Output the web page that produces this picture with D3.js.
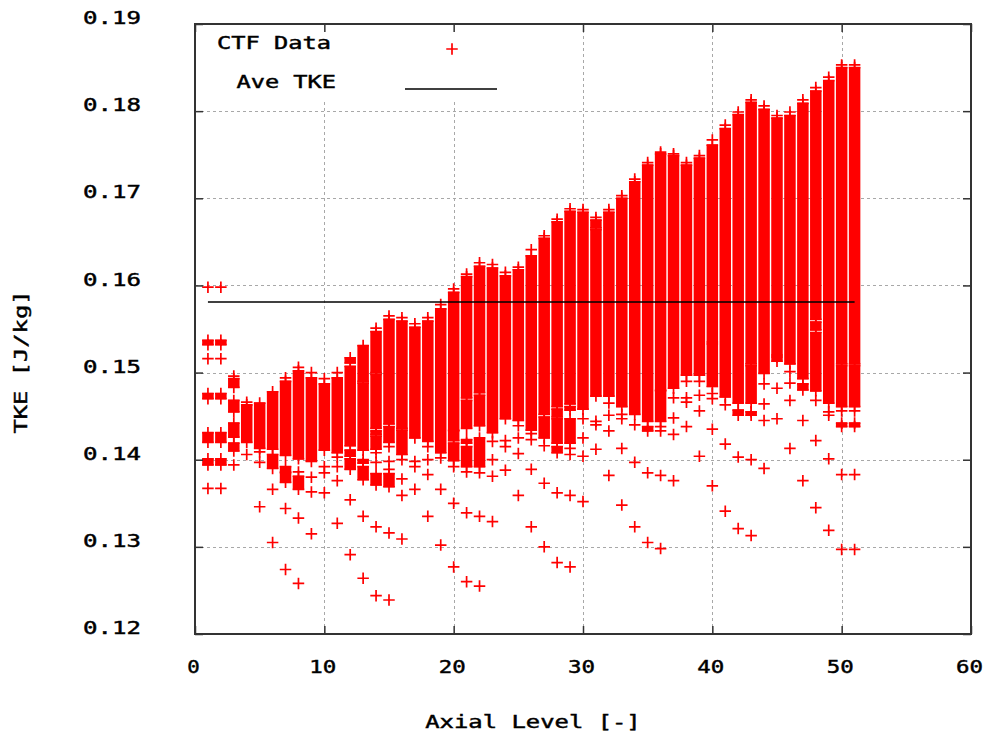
<!DOCTYPE html>
<html>
<head>
<meta charset="utf-8">
<script src="https://cdn.jsdelivr.net/npm/d3@7"></script>
<style>
  body { margin: 0; background: #fff; }
  text { font-family: 'DejaVu Sans Mono', 'Liberation Mono', monospace; font-size: 18px; fill: #000;
         stroke: #000; stroke-width: 0.45px; }
</style>
</head>
<body>
<svg id="chart" width="986" height="738"></svg>
<script>
// axis ticks
var xTicks = [0, 10, 20, 30, 40, 50, 60];
var yTicks = [0.12, 0.13, 0.14, 0.15, 0.16, 0.17, 0.18, 0.19];

// average TKE over all levels
var aveTKE = 0.1581;
var aveLevels = [1, 51];

// dense clusters of CTF points: [level, low, high]
var blocks = [
  [1, 0.1532, 0.1537], [1, 0.1470, 0.1476], [1, 0.1420, 0.1431], [1, 0.1394, 0.1401],
  [2, 0.1532, 0.1537], [2, 0.1470, 0.1476], [2, 0.1420, 0.1431], [2, 0.1394, 0.1401],
  [3, 0.1483, 0.1493], [3, 0.1455, 0.1468], [3, 0.1426, 0.1442], [3, 0.1410, 0.1419],
  [4, 0.1420, 0.1463],
  [5, 0.1413, 0.1465],
  [6, 0.1412, 0.1478], [6, 0.1390, 0.1406],
  [7, 0.1405, 0.1490], [7, 0.1386, 0.1392], [7, 0.1374, 0.1385],
  [8, 0.1401, 0.1502], [8, 0.1366, 0.1381],
  [9, 0.1398, 0.1494],
  [10, 0.1411, 0.1487],
  [11, 0.1408, 0.1494],
  [12, 0.1511, 0.1517], [12, 0.1416, 0.1507], [12, 0.1404, 0.1411], [12, 0.1389, 0.1401],
  [13, 0.1490, 0.1531], [13, 0.1411, 0.1488], [13, 0.1396, 0.1400], [13, 0.1377, 0.1392],
  [14, 0.1500, 0.1547], [14, 0.1436, 0.1498], [14, 0.1429, 0.1433], [14, 0.1412, 0.1427], [14, 0.1371, 0.1384],
  [15, 0.1441, 0.1561], [15, 0.1420, 0.1438], [15, 0.1369, 0.1384],
  [16, 0.1436, 0.1559], [16, 0.1406, 0.1434],
  [17, 0.1425, 0.1552],
  [18, 0.1421, 0.1559],
  [19, 0.1408, 0.1573],
  [20, 0.1434, 0.1592], [20, 0.1422, 0.1433], [20, 0.1399, 0.1419],
  [21, 0.1471, 0.1610], [21, 0.1436, 0.1468], [21, 0.1419, 0.1423], [21, 0.1392, 0.1415],
  [22, 0.1477, 0.1622], [22, 0.1439, 0.1474], [22, 0.1392, 0.1425],
  [23, 0.1431, 0.1620],
  [24, 0.1447, 0.1611],
  [25, 0.1445, 0.1618],
  [26, 0.1434, 0.1634],
  [27, 0.1452, 0.1654], [27, 0.1425, 0.1449],
  [28, 0.1461, 0.1673], [28, 0.1449, 0.1458], [28, 0.1419, 0.1447], [28, 0.1408, 0.1415],
  [29, 0.1464, 0.1685], [29, 0.1457, 0.1461], [29, 0.1419, 0.1447],
  [30, 0.1458, 0.1684],
  [31, 0.1666, 0.1675], [31, 0.1473, 0.1664],
  [32, 0.1473, 0.1684],
  [33, 0.1461, 0.1700],
  [34, 0.1452, 0.1719],
  [35, 0.1444, 0.1738], [35, 0.1433, 0.1438],
  [36, 0.1480, 0.1751], [36, 0.1444, 0.1479],
  [37, 0.1482, 0.1749],
  [38, 0.1497, 0.1738],
  [39, 0.1497, 0.1746],
  [40, 0.1535, 0.1761], [40, 0.1484, 0.1533],
  [41, 0.1472, 0.1780],
  [42, 0.1465, 0.1796], [42, 0.1451, 0.1457],
  [43, 0.1510, 0.1810], [43, 0.1465, 0.1508], [43, 0.1451, 0.1455],
  [44, 0.1499, 0.1802],
  [45, 0.1520, 0.1792], [45, 0.1513, 0.1518],
  [46, 0.1510, 0.1795],
  [47, 0.1493, 0.1809], [47, 0.1480, 0.1487],
  [48, 0.1561, 0.1823], [48, 0.1549, 0.1558], [48, 0.1479, 0.1546],
  [49, 0.1465, 0.1835],
  [50, 0.1510, 0.1850], [50, 0.1461, 0.1508], [50, 0.1438, 0.1442],
  [51, 0.1510, 0.1850], [51, 0.1461, 0.1508], [51, 0.1438, 0.1442]
];

// isolated CTF points: [level, value]
var singles = [
  [1, 0.1598], [1, 0.1516], [1, 0.1367],
  [2, 0.1598], [2, 0.1516], [2, 0.1367],
  [3, 0.1496], [3, 0.1394],
  [4, 0.1466], [4, 0.1406],
  [5, 0.1409], [5, 0.1397], [5, 0.1346],
  [6, 0.1366], [6, 0.1305],
  [7, 0.1494], [7, 0.1344], [7, 0.1274],
  [8, 0.1506], [8, 0.1386], [8, 0.1333], [8, 0.1258],
  [9, 0.1500], [9, 0.1380], [9, 0.1363], [9, 0.1315],
  [10, 0.1493], [10, 0.1392], [10, 0.1385], [10, 0.1362],
  [11, 0.1500], [11, 0.1403], [11, 0.1392], [11, 0.1376], [11, 0.1327],
  [12, 0.1354], [12, 0.1291],
  [13, 0.1335], [13, 0.1264],
  [14, 0.1551], [14, 0.1408], [14, 0.1397], [14, 0.1323], [14, 0.1244],
  [15, 0.1565], [15, 0.1415], [15, 0.1398], [15, 0.1389], [15, 0.1316], [15, 0.1239],
  [16, 0.1563], [16, 0.1400], [16, 0.1378], [16, 0.1359], [16, 0.1309],
  [17, 0.1556], [17, 0.1398], [17, 0.1392], [17, 0.1366],
  [18, 0.1563], [18, 0.1415], [18, 0.1400], [18, 0.1383], [18, 0.1335],
  [19, 0.1578], [19, 0.1402], [19, 0.1366], [19, 0.1302],
  [20, 0.1596], [20, 0.1392], [20, 0.1350], [20, 0.1277],
  [21, 0.1613], [21, 0.1386], [21, 0.1339], [21, 0.1260],
  [22, 0.1626], [22, 0.1385], [22, 0.1335], [22, 0.1255],
  [23, 0.1624], [23, 0.1421], [23, 0.1400], [23, 0.1381], [23, 0.1329],
  [24, 0.1615], [24, 0.1422], [24, 0.1415], [24, 0.1388],
  [25, 0.1621], [25, 0.1439], [25, 0.1425], [25, 0.1407], [25, 0.1359],
  [26, 0.1641], [26, 0.1430], [26, 0.1423], [26, 0.1389], [26, 0.1323],
  [27, 0.1657], [27, 0.1416], [27, 0.1373], [27, 0.1300],
  [28, 0.1676], [28, 0.1362], [28, 0.1282],
  [29, 0.1688], [29, 0.1413], [29, 0.1406], [29, 0.1359], [29, 0.1277],
  [30, 0.1687], [30, 0.1447], [30, 0.1425], [30, 0.1404], [30, 0.1352],
  [31, 0.1678], [31, 0.1444], [31, 0.1440], [31, 0.1412],
  [32, 0.1687], [32, 0.1465], [32, 0.1451], [32, 0.1433], [32, 0.1382],
  [33, 0.1703], [33, 0.1452], [33, 0.1447], [33, 0.1413], [33, 0.1348],
  [34, 0.1722], [34, 0.1440], [34, 0.1397], [34, 0.1323],
  [35, 0.1741], [35, 0.1385], [35, 0.1305],
  [36, 0.1753], [36, 0.1438], [36, 0.1433], [36, 0.1382], [36, 0.1298],
  [37, 0.1751], [37, 0.1471], [37, 0.1448], [37, 0.1429], [37, 0.1376],
  [38, 0.1741], [38, 0.1490], [38, 0.1471], [38, 0.1466], [38, 0.1438],
  [39, 0.1749], [39, 0.1490], [39, 0.1474], [39, 0.1456], [39, 0.1404],
  [40, 0.1767], [40, 0.1476], [40, 0.1470], [40, 0.1435], [40, 0.1370],
  [41, 0.1784], [41, 0.1463], [41, 0.1418], [41, 0.1341],
  [42, 0.1799], [42, 0.1403], [42, 0.1321],
  [43, 0.1813], [43, 0.1400], [43, 0.1313],
  [44, 0.1806], [44, 0.1487], [44, 0.1464], [44, 0.1445], [44, 0.1390],
  [45, 0.1795], [45, 0.1482], [45, 0.1447],
  [46, 0.1799], [46, 0.1501], [46, 0.1488], [46, 0.1468], [46, 0.1413],
  [47, 0.1813], [47, 0.1445], [47, 0.1376],
  [48, 0.1827], [48, 0.1468], [48, 0.1422], [48, 0.1345],
  [49, 0.1839], [49, 0.1455], [49, 0.1451], [49, 0.1401], [49, 0.1319],
  [50, 0.1853], [50, 0.1456], [50, 0.1383], [50, 0.1297],
  [51, 0.1853], [51, 0.1456], [51, 0.1383], [51, 0.1297]
];

var margin = { top: 24, right: 15, bottom: 104, left: 195 };
var width = 986 - margin.left - margin.right;   // 776
var height = 738 - margin.top - margin.bottom;  // 610
var charW = 14.5;  // wide bitmap-like font

var svg = d3.select('#chart').append('g')
  .attr('transform', 'translate(' + margin.left + ',' + margin.top + ')');

var xScale = d3.scaleLinear().domain([0, 60]).range([0, width]);
var yScale = d3.scaleLinear().domain([0.12, 0.19]).range([height, 0]);

// grid
svg.append('g').selectAll('line')
  .data(xTicks.slice(1, -1))
  .enter().append('line')
  .attr('x1', function (d) { return Math.round(xScale(d)) + 0.5; })
  .attr('x2', function (d) { return Math.round(xScale(d)) + 0.5; })
  .attr('y1', 0).attr('y2', height)
  .attr('stroke', '#a8a8a8').attr('stroke-dasharray', '3,3');
svg.append('g').selectAll('line')
  .data(yTicks.slice(1, -1))
  .enter().append('line')
  .attr('y1', function (d) { return Math.round(yScale(d)) + 0.5; })
  .attr('y2', function (d) { return Math.round(yScale(d)) + 0.5; })
  .attr('x1', 0).attr('x2', width)
  .attr('stroke', '#a8a8a8').attr('stroke-dasharray', '3,3');

// key box hides the grid behind it
svg.append('rect')
  .attr('x', 1).attr('y', 1).attr('width', 314).attr('height', 76)
  .attr('fill', '#fff');

// dense clusters
var barW = 11.5;
svg.append('g').selectAll('rect')
  .data(blocks)
  .enter().append('rect')
  .attr('x', function (d) { return xScale(d[0]) - barW / 2; })
  .attr('y', function (d) { return yScale(d[2]) - 0.6; })
  .attr('width', barW)
  .attr('height', function (d) { return yScale(d[1]) - yScale(d[2]) + 1.2; })
  .attr('fill', '#ff0000');

// every marker: isolated points plus the ends of each cluster
var markers = singles.slice();
blocks.forEach(function (b) {
  markers.push([b[0], b[1]]);
  markers.push([b[0], b[2]]);
});

function plusPath(cx, cy, r) {
  return 'M' + (cx - r) + ',' + cy + 'H' + (cx + r) + 'M' + cx + ',' + (cy - r) + 'V' + (cy + r);
}

svg.append('g').selectAll('path')
  .data(markers)
  .enter().append('path')
  .attr('d', function (d) { return plusPath(xScale(d[0]), yScale(d[1]), 5.75); })
  .attr('stroke', '#ff0000')
  .attr('stroke-width', 1.7)
  .attr('fill', 'none');

// average line
svg.append('line')
  .attr('x1', xScale(aveLevels[0])).attr('x2', xScale(aveLevels[1]))
  .attr('y1', yScale(aveTKE)).attr('y2', yScale(aveTKE))
  .attr('stroke', '#000').attr('stroke-width', 1.6);

// axes, ticks pointing inward and mirrored
var xAxis = d3.axisBottom(xScale).tickValues(xTicks).tickSize(-8).tickPadding(26)
  .tickFormat(d3.format('d'));
var yAxis = d3.axisLeft(yScale).tickValues(yTicks).tickSize(-8).tickPadding(54)
  .tickFormat(d3.format('.2f'));

var gx = svg.append('g').attr('transform', 'translate(0,' + height + ')').call(xAxis);
var gy = svg.append('g').call(yAxis);
svg.append('g').call(d3.axisTop(xScale).tickValues(xTicks).tickSize(-8).tickFormat(''));
svg.append('g').attr('transform', 'translate(' + width + ',0)')
  .call(d3.axisRight(yScale).tickValues(yTicks).tickSize(-8).tickFormat(''));

svg.selectAll('.domain').remove();
svg.selectAll('.tick line').attr('stroke', '#333').attr('stroke-width', 1.5);

gx.selectAll('text')
  .attr('font-family', null).attr('font-size', null)
  .attr('dx', -2)
  .attr('textLength', function (d) { return String(d).length * charW - 2; })
  .attr('lengthAdjust', 'spacingAndGlyphs');
gy.selectAll('text')
  .attr('font-family', null).attr('font-size', null)
  .attr('dy', '-0.02em')
  .attr('textLength', 58)
  .attr('lengthAdjust', 'spacingAndGlyphs');

// frame
svg.append('rect')
  .attr('x', 0).attr('y', 0).attr('width', width).attr('height', height)
  .attr('fill', 'none').attr('stroke', '#333').attr('stroke-width', 2);

// key
svg.append('text')
  .attr('x', 136).attr('y', 25)
  .attr('text-anchor', 'end')
  .attr('textLength', 8 * charW - 2).attr('lengthAdjust', 'spacingAndGlyphs')
  .text('CTF Data');
svg.append('path')
  .attr('d', plusPath(257, 25, 5.75))
  .attr('stroke', '#ff0000').attr('stroke-width', 1.7);
svg.append('text')
  .attr('x', 141).attr('y', 64)
  .attr('text-anchor', 'end')
  .attr('textLength', 7 * charW - 2).attr('lengthAdjust', 'spacingAndGlyphs')
  .text('Ave TKE');
svg.append('line')
  .attr('x1', 210).attr('x2', 302).attr('y1', 65).attr('y2', 65)
  .attr('stroke', '#000').attr('stroke-width', 1.6);

// axis labels
svg.append('text')
  .attr('x', 338).attr('y', height + 94)
  .attr('text-anchor', 'middle')
  .attr('textLength', 15 * charW - 2).attr('lengthAdjust', 'spacingAndGlyphs')
  .text('Axial Level [-]');
svg.append('text')
  .attr('transform', 'rotate(-90)')
  .attr('x', -338).attr('y', -168)
  .attr('text-anchor', 'middle')
  .attr('textLength', 10 * charW - 2).attr('lengthAdjust', 'spacingAndGlyphs')
  .text('TKE [J/kg]');
</script>
</body>
</html>
